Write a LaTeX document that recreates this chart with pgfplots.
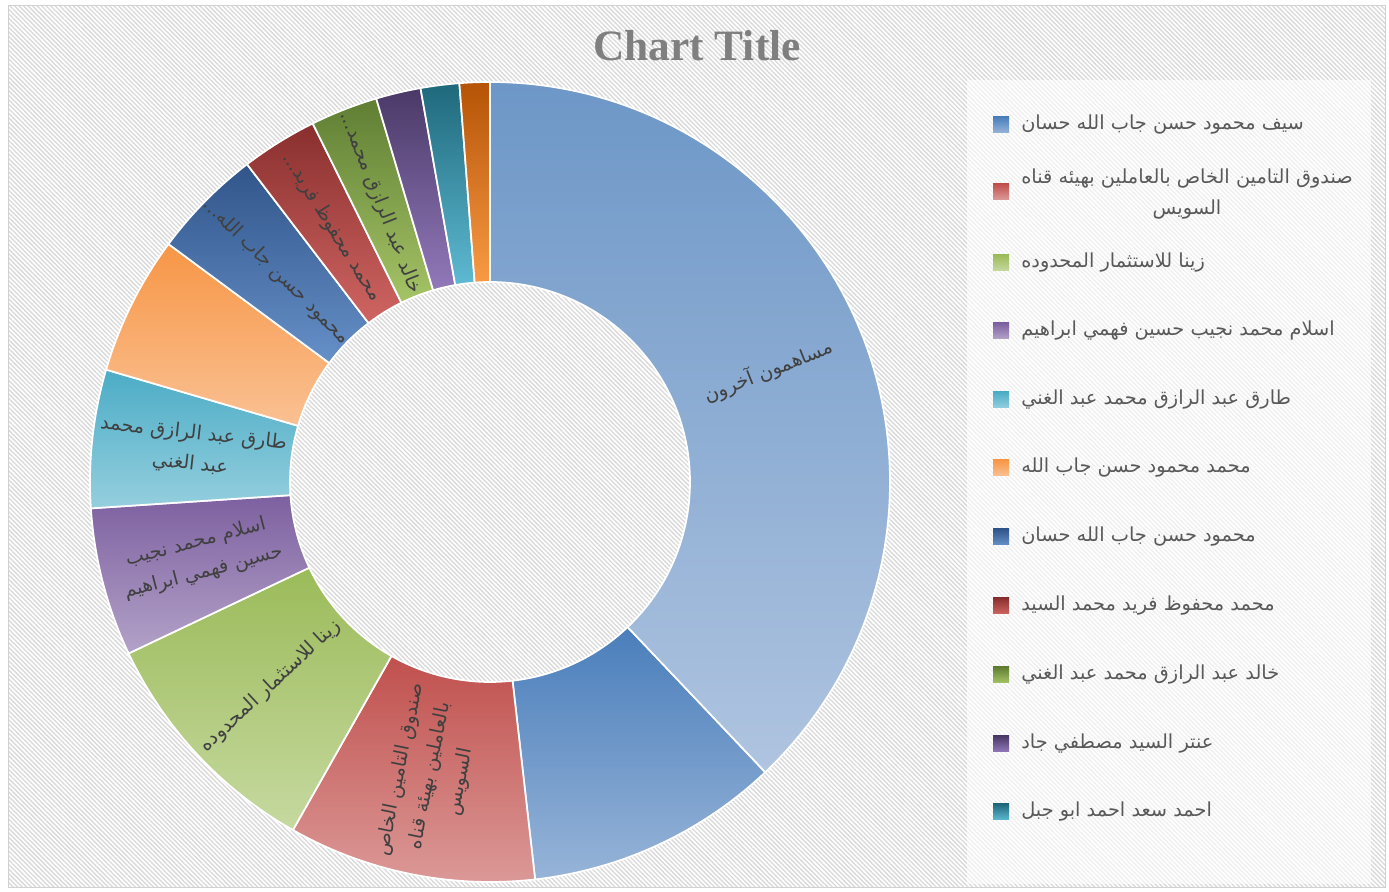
\documentclass[border=0pt]{standalone}
\usepackage{pgfplots}
\pgfplotsset{compat=1.18}
\usepackage{pgfplotstable}
\usepackage{fontspec}
\usetikzlibrary{patterns.meta}
\TeXXeTstate=1
\setmainfont{Liberation Serif}
\newfontfamily\arabicfont[Script=Arabic]{DejaVu Sans}
\newcommand\ar[1]{{\arabicfont\beginR #1\endR}}

\definecolor{top0}{HTML}{4A7EBB}\definecolor{bot0}{HTML}{97B4D8}
\definecolor{top1}{HTML}{C0504D}\definecolor{bot1}{HTML}{DC9B99}
\definecolor{top2}{HTML}{9BBB59}\definecolor{bot2}{HTML}{C6D9A0}
\definecolor{top3}{HTML}{7D60A0}\definecolor{bot3}{HTML}{B3A2C8}
\definecolor{top4}{HTML}{4BACC6}\definecolor{bot4}{HTML}{95CFDE}
\definecolor{top5}{HTML}{F79646}\definecolor{bot5}{HTML}{FAC193}
\definecolor{top6}{HTML}{30558A}\definecolor{bot6}{HTML}{6690C8}
\definecolor{top7}{HTML}{892F2E}\definecolor{bot7}{HTML}{CF6562}
\definecolor{top8}{HTML}{5F7E33}\definecolor{bot8}{HTML}{A5C466}
\definecolor{top9}{HTML}{4A3967}\definecolor{bot9}{HTML}{9279BA}
\definecolor{top10}{HTML}{1F687B}\definecolor{bot10}{HTML}{5DBAD2}
\definecolor{top11}{HTML}{B55306}\definecolor{bot11}{HTML}{F89A45}
\definecolor{top12}{HTML}{6D97C7}\definecolor{bot12}{HTML}{AFC4E0}
\definecolor{labelgray}{HTML}{404040}
\definecolor{legendgray}{HTML}{595959}
\definecolor{titlegray}{HTML}{7F7F7F}

% shares in percent, legend order (last row: other shareholders)
\pgfplotstableread{
id value
0 10.28
1 10.00
2 9.75
3 6.00
4 5.58
5 5.61
6 4.47
7 3.08
8 2.72
9 1.81
10 1.56
11 1.22
12 37.92
}\shares

\def\cx{490}\def\cy{410}\def\Rout{400}\def\Rin{200}
\newcommand\labelfont{\fontsize{14.5}{23}\selectfont}
\newcommand\seglabel[2]{%
  \pgfmathsetmacro\m{\csname mid#1\endcsname}%
  \pgfmathsetmacro\rot{cos(\m)<0 ? \m+180 : \m}%
  \node[rotate=\rot, align=center, text=labelgray, font=\labelfont, inner sep=0pt]
    at (axis cs:{\cx+300*cos(\m)},{\cy+300*sin(\m)}) {#2};}

\begin{document}
\begin{tikzpicture}
\begin{axis}[width=1041.75pt, height=669pt, scale only axis, hide axis,
  xmin=0, xmax=1389, ymin=0, ymax=892, clip=false]
\pgfplotsextra{%
  \fill[white] (axis cs:0,0) rectangle (axis cs:1389,892);
  \fill[pattern={Lines[angle=-45, distance=2.4pt, line width=1.0pt]}, pattern color=black!15]
    (axis cs:8,4) rectangle (axis cs:1385,886);
  \draw[black!18, line width=0.75pt] (axis cs:8,4) rectangle (axis cs:1385,886);
  \fill[white, opacity=0.6] (axis cs:967,812) rectangle (axis cs:1371,8);
}
\pgfplotsextra{%
  \pgfplotstablegetelem{12}{value}\of\shares
  \pgfmathsetmacro\st{90-3.6*\pgfplotsretval}%
  \xdef\cur{\st}%
  \foreach \i in {0,...,12}{%
    \pgfplotstablegetelem{\i}{value}\of\shares
    \pgfmathsetmacro\aa{\cur}%
    \pgfmathsetmacro\bb{\cur-3.6*\pgfplotsretval}%
    \pgfmathsetmacro\mm{(\aa+\bb)/2}%
    \expandafter\xdef\csname mid\i\endcsname{\mm}%
    \shadedraw[draw=white, line width=1.3pt, line join=round, top color=top\i, bottom color=bot\i]
      (axis cs:{\cx+\Rout*cos(\aa)},{\cy+\Rout*sin(\aa)})
      arc[start angle=\aa, end angle=\bb, radius=300pt]
      -- (axis cs:{\cx+\Rin*cos(\bb)},{\cy+\Rin*sin(\bb)})
      arc[start angle=\bb, end angle=\aa, radius=150pt] -- cycle;
    \xdef\cur{\bb}%
  }%
}
\pgfplotsextra{%
  \seglabel{12}{\ar{مساهمون آخرون}}
  \seglabel{1}{\ar{صندوق التامين الخاص}\\\ar{بالعاملين بهيئة قناه}\\\ar{السويس}}
  \seglabel{2}{\ar{زينا للاستثمار المحدوده}}
  \seglabel{3}{\ar{اسلام محمد نجيب}\\\ar{حسين فهمي ابراهيم}}
  \seglabel{4}{\ar{طارق عبد الرازق محمد}\\\ar{عبد الغني}}
  \seglabel{6}{\ar{محمود حسن جاب الله...}}
  \seglabel{7}{\ar{محمد محفوظ فريد...}}
  \seglabel{8}{\ar{خالد عبد الرازق محمد...}}
}
\pgfplotsextra{%
  \node[text=titlegray, font=\fontsize{32.5}{32.5}\selectfont\bfseries] at (axis cs:697,846) {Chart Title};
  \foreach \i/\y in {0/125,1/192,2/263,3/331,4/400,5/468,6/537,7/606,8/675,9/744,10/812}{%
    \shade[top color=top\i, bottom color=bot\i] (axis cs:993,{892-\y+8}) rectangle (axis cs:1009,{892-\y-8});
  }
  \begingroup
  \tikzset{every node/.style={anchor=west, align=center, text=legendgray, font=\labelfont, inner sep=0pt}}
  \node at (axis cs:1021,{892-125}) {\ar{سيف محمود حسن جاب الله حسان}};
  \node at (axis cs:1021,{892-194}) {\ar{صندوق التامين الخاص بالعاملين بهيئه قناه}\\\ar{السويس}};
  \node at (axis cs:1021,{892-263}) {\ar{زينا للاستثمار المحدوده}};
  \node at (axis cs:1021,{892-331}) {\ar{اسلام محمد نجيب حسين فهمي ابراهيم}};
  \node at (axis cs:1021,{892-400}) {\ar{طارق عبد الرازق محمد عبد الغني}};
  \node at (axis cs:1021,{892-468}) {\ar{محمد محمود حسن جاب الله}};
  \node at (axis cs:1021,{892-537}) {\ar{محمود حسن جاب الله حسان}};
  \node at (axis cs:1021,{892-606}) {\ar{محمد محفوظ فريد محمد السيد}};
  \node at (axis cs:1021,{892-675}) {\ar{خالد عبد الرازق محمد عبد الغني}};
  \node at (axis cs:1021,{892-744}) {\ar{عنتر السيد مصطفي جاد}};
  \node at (axis cs:1021,{892-812}) {\ar{احمد سعد احمد ابو جبل}};
  \endgroup
}
\end{axis}
\end{tikzpicture}
\end{document}
